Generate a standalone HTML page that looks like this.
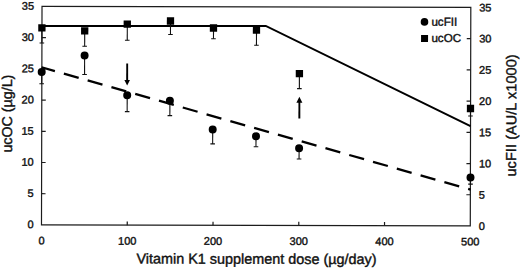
<!DOCTYPE html>
<html><head><meta charset="utf-8"><style>
html,body{margin:0;padding:0;background:#fff;}
svg{display:block;font-family:"Liberation Sans",sans-serif;}
text{fill:#111;stroke:#111;stroke-width:0.4px;}
</style></head><body>
<svg width="520" height="269" viewBox="0 0 520 269">
<rect width="520" height="269" fill="#fff"/>
<g transform="rotate(0.138 256.0 116.0)">
<rect x="41.75" y="6.95" width="428.80" height="218.50" fill="none" stroke="#1c1c1c" stroke-width="1.2"/>
<line x1="41.75" y1="194.24" x2="45.75" y2="194.24" stroke="#1c1c1c" stroke-width="1.2"/>
<line x1="466.55" y1="194.24" x2="470.55" y2="194.24" stroke="#1c1c1c" stroke-width="1.2"/>
<line x1="41.75" y1="163.02" x2="45.75" y2="163.02" stroke="#1c1c1c" stroke-width="1.2"/>
<line x1="466.55" y1="163.02" x2="470.55" y2="163.02" stroke="#1c1c1c" stroke-width="1.2"/>
<line x1="41.75" y1="131.81" x2="45.75" y2="131.81" stroke="#1c1c1c" stroke-width="1.2"/>
<line x1="466.55" y1="131.81" x2="470.55" y2="131.81" stroke="#1c1c1c" stroke-width="1.2"/>
<line x1="41.75" y1="100.59" x2="45.75" y2="100.59" stroke="#1c1c1c" stroke-width="1.2"/>
<line x1="466.55" y1="100.59" x2="470.55" y2="100.59" stroke="#1c1c1c" stroke-width="1.2"/>
<line x1="41.75" y1="69.38" x2="45.75" y2="69.38" stroke="#1c1c1c" stroke-width="1.2"/>
<line x1="466.55" y1="69.38" x2="470.55" y2="69.38" stroke="#1c1c1c" stroke-width="1.2"/>
<line x1="41.75" y1="38.16" x2="45.75" y2="38.16" stroke="#1c1c1c" stroke-width="1.2"/>
<line x1="466.55" y1="38.16" x2="470.55" y2="38.16" stroke="#1c1c1c" stroke-width="1.2"/>
<line x1="127.51" y1="225.45" x2="127.51" y2="221.75" stroke="#1c1c1c" stroke-width="1.2"/>
<line x1="213.27" y1="225.45" x2="213.27" y2="221.75" stroke="#1c1c1c" stroke-width="1.2"/>
<line x1="299.03" y1="225.45" x2="299.03" y2="221.75" stroke="#1c1c1c" stroke-width="1.2"/>
<line x1="384.79" y1="225.45" x2="384.79" y2="221.75" stroke="#1c1c1c" stroke-width="1.2"/>
<text x="33.8" y="228.85" text-anchor="end" font-size="11">0</text>
<text x="479.0" y="229.35" text-anchor="start" font-size="11">0</text>
<text x="33.8" y="197.64" text-anchor="end" font-size="11">5</text>
<text x="479.0" y="198.14" text-anchor="start" font-size="11">5</text>
<text x="33.8" y="166.42" text-anchor="end" font-size="11">10</text>
<text x="479.0" y="166.92" text-anchor="start" font-size="11">10</text>
<text x="33.8" y="135.21" text-anchor="end" font-size="11">15</text>
<text x="479.0" y="135.71" text-anchor="start" font-size="11">15</text>
<text x="33.8" y="103.99" text-anchor="end" font-size="11">20</text>
<text x="479.0" y="104.49" text-anchor="start" font-size="11">20</text>
<text x="33.8" y="72.78" text-anchor="end" font-size="11">25</text>
<text x="479.0" y="73.28" text-anchor="start" font-size="11">25</text>
<text x="33.8" y="41.56" text-anchor="end" font-size="11">30</text>
<text x="479.0" y="42.06" text-anchor="start" font-size="11">30</text>
<text x="33.8" y="10.35" text-anchor="end" font-size="11">35</text>
<text x="479.0" y="10.85" text-anchor="start" font-size="11">35</text>
<text x="41.75" y="245" text-anchor="middle" font-size="11">0</text>
<text x="127.51" y="245" text-anchor="middle" font-size="11">100</text>
<text x="213.27" y="245" text-anchor="middle" font-size="11">200</text>
<text x="299.03" y="245" text-anchor="middle" font-size="11">300</text>
<text x="384.79" y="245" text-anchor="middle" font-size="11">400</text>
<text x="470.55" y="245" text-anchor="middle" font-size="11">500</text>
<text x="136.86" y="263.79" text-anchor="start" font-size="14.4">Vitamin K1 supplement dose (µg/day)</text>
<text transform="translate(11.99,114.19) rotate(-90)" text-anchor="middle" font-size="14.25">ucOC (µg/L)</text>
<text transform="translate(516.20,114.77) rotate(-90)" text-anchor="middle" font-size="14.4" letter-spacing="0.11">ucFII (AU/L x1000)</text>
<polyline points="41.38,26.42 265.58,25.88 470.52,125.68" fill="none" stroke="#000" stroke-width="2"/>
<line x1="41.48" y1="67.75" x2="470.78" y2="189.11" stroke="#000" stroke-width="2.3" stroke-dasharray="15.4 9.33" stroke-dashoffset="1.56"/>
<line x1="41.69" y1="28.42" x2="41.69" y2="43.52" stroke="#111" stroke-width="1.1"/>
<line x1="39.39" y1="43.52" x2="43.99" y2="43.52" stroke="#111" stroke-width="1.1"/>
<line x1="84.50" y1="31.21" x2="84.50" y2="46.61" stroke="#111" stroke-width="1.1"/>
<line x1="82.20" y1="46.61" x2="86.80" y2="46.61" stroke="#111" stroke-width="1.1"/>
<line x1="127.08" y1="24.41" x2="127.08" y2="40.61" stroke="#111" stroke-width="1.1"/>
<line x1="124.78" y1="40.61" x2="129.38" y2="40.61" stroke="#111" stroke-width="1.1"/>
<line x1="170.27" y1="21.21" x2="170.27" y2="34.71" stroke="#111" stroke-width="1.1"/>
<line x1="167.97" y1="34.71" x2="172.57" y2="34.71" stroke="#111" stroke-width="1.1"/>
<line x1="213.29" y1="28.10" x2="213.29" y2="38.80" stroke="#111" stroke-width="1.1"/>
<line x1="210.99" y1="38.80" x2="215.59" y2="38.80" stroke="#111" stroke-width="1.1"/>
<line x1="256.29" y1="30.00" x2="256.29" y2="45.30" stroke="#111" stroke-width="1.1"/>
<line x1="253.99" y1="45.30" x2="258.59" y2="45.30" stroke="#111" stroke-width="1.1"/>
<line x1="299.30" y1="73.60" x2="299.30" y2="88.50" stroke="#111" stroke-width="1.1"/>
<line x1="297.00" y1="88.50" x2="301.60" y2="88.50" stroke="#111" stroke-width="1.1"/>
<line x1="470.48" y1="107.98" x2="470.48" y2="115.48" stroke="#111" stroke-width="1.1"/>
<line x1="468.18" y1="115.48" x2="472.78" y2="115.48" stroke="#111" stroke-width="1.1"/>
<line x1="41.59" y1="72.62" x2="41.59" y2="84.32" stroke="#111" stroke-width="1.1"/>
<line x1="39.29" y1="84.32" x2="43.89" y2="84.32" stroke="#111" stroke-width="1.1"/>
<line x1="84.46" y1="56.01" x2="84.46" y2="74.91" stroke="#111" stroke-width="1.1"/>
<line x1="82.16" y1="74.91" x2="86.76" y2="74.91" stroke="#111" stroke-width="1.1"/>
<line x1="127.15" y1="95.51" x2="127.15" y2="111.91" stroke="#111" stroke-width="1.1"/>
<line x1="124.85" y1="111.91" x2="129.45" y2="111.91" stroke="#111" stroke-width="1.1"/>
<line x1="169.86" y1="101.01" x2="169.86" y2="115.81" stroke="#111" stroke-width="1.1"/>
<line x1="167.56" y1="115.81" x2="172.16" y2="115.81" stroke="#111" stroke-width="1.1"/>
<line x1="212.73" y1="129.70" x2="212.73" y2="144.00" stroke="#111" stroke-width="1.1"/>
<line x1="210.43" y1="144.00" x2="215.03" y2="144.00" stroke="#111" stroke-width="1.1"/>
<line x1="256.05" y1="136.30" x2="256.05" y2="146.80" stroke="#111" stroke-width="1.1"/>
<line x1="253.75" y1="146.80" x2="258.35" y2="146.80" stroke="#111" stroke-width="1.1"/>
<line x1="299.18" y1="148.20" x2="299.18" y2="158.90" stroke="#111" stroke-width="1.1"/>
<line x1="296.88" y1="158.90" x2="301.48" y2="158.90" stroke="#111" stroke-width="1.1"/>
<line x1="470.65" y1="177.08" x2="470.65" y2="183.58" stroke="#111" stroke-width="1.1"/>
<line x1="468.35" y1="183.58" x2="472.95" y2="183.58" stroke="#111" stroke-width="1.1"/>
<rect x="38.04" y="24.77" width="7.3" height="7.3" fill="#000"/>
<rect x="80.85" y="27.56" width="7.3" height="7.3" fill="#000"/>
<rect x="123.43" y="20.76" width="7.3" height="7.3" fill="#000"/>
<rect x="166.62" y="17.56" width="7.3" height="7.3" fill="#000"/>
<rect x="209.64" y="24.45" width="7.3" height="7.3" fill="#000"/>
<rect x="252.64" y="26.35" width="7.3" height="7.3" fill="#000"/>
<rect x="295.65" y="69.95" width="7.3" height="7.3" fill="#000"/>
<rect x="466.83" y="104.33" width="7.3" height="7.3" fill="#000"/>
<circle cx="41.59" cy="72.62" r="4.0" fill="#000"/>
<circle cx="84.46" cy="56.01" r="4.0" fill="#000"/>
<circle cx="127.15" cy="95.51" r="4.0" fill="#000"/>
<circle cx="169.86" cy="101.01" r="4.0" fill="#000"/>
<circle cx="212.73" cy="129.70" r="4.0" fill="#000"/>
<circle cx="256.05" cy="136.30" r="4.0" fill="#000"/>
<circle cx="299.18" cy="148.20" r="4.0" fill="#000"/>
<circle cx="470.65" cy="177.08" r="4.0" fill="#000"/>
<line x1="127.07" y1="63.71" x2="127.07" y2="81.31" stroke="#000" stroke-width="1.9"/>
<path d="M124.27,80.31 L129.87,80.31 L127.07,85.71 Z" fill="#000"/>
<line x1="299.35" y1="101.70" x2="299.35" y2="118.40" stroke="#000" stroke-width="1.9"/>
<path d="M296.35,102.70 L302.35,102.70 L299.35,96.70 Z" fill="#000"/>
<circle cx="424.27" cy="21.49" r="3.8" fill="#000"/>
<text x="431.18" y="25.28" text-anchor="start" font-size="11.6">ucFII</text>
<rect x="420.86" y="34.69" width="7" height="7" fill="#000"/>
<text x="431.22" y="41.48" text-anchor="start" font-size="11.6">ucOC</text>
</g>
</svg>
</body></html>
